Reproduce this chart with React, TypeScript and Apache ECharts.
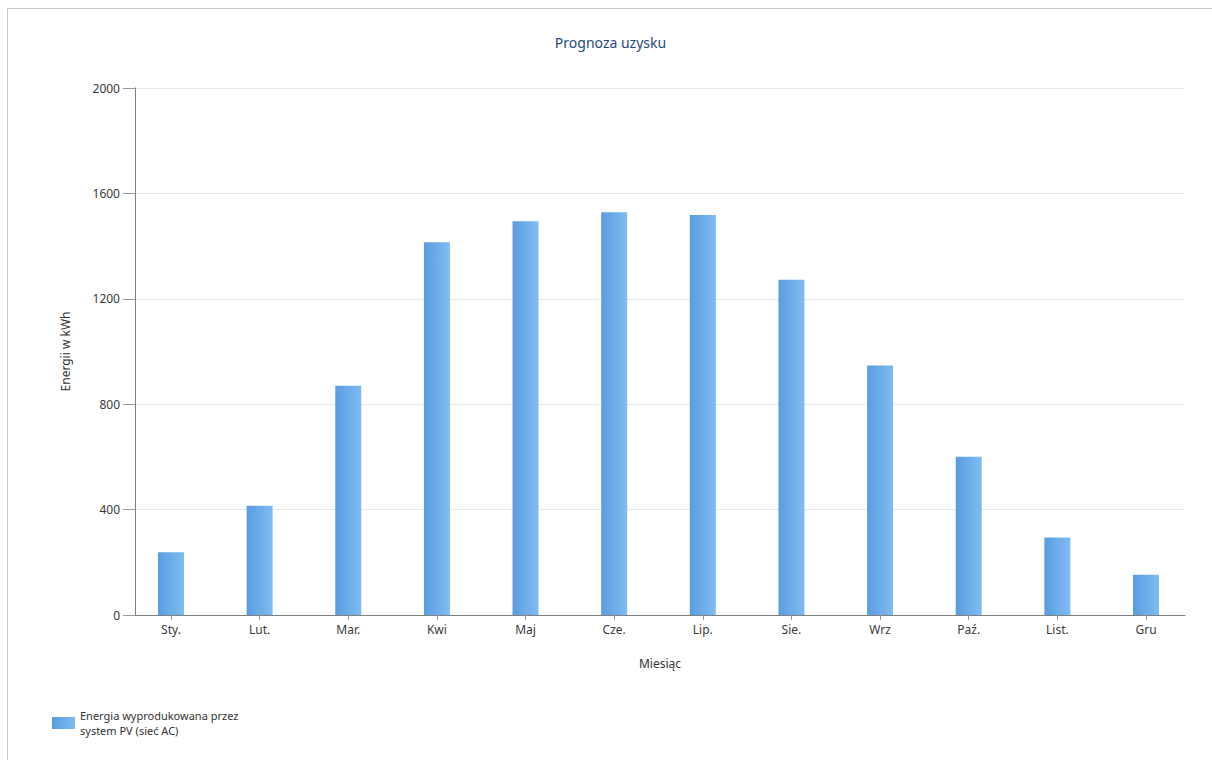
import React, { useEffect, useRef } from "react";
import * as echarts from "echarts";

const months = ["Sty.", "Lut.", "Mar.", "Kwi", "Maj", "Cze.", "Lip.", "Sie.", "Wrz", "Paź.", "List.", "Gru"];
const energy = [238, 415, 870, 1415, 1494, 1528, 1518, 1272, 947, 601, 294, 153];
const yTicks = { min: 0, max: 2000, interval: 400 };
const seriesName = "Energia wyprodukowana przez\nsystem PV (sieć AC)";
const FONT = "Noto Sans";

export default function App() {
  const ref = useRef<HTMLDivElement>(null);
  useEffect(() => {
    if (!ref.current) return;
    const chart = echarts.init(ref.current, undefined, { renderer: "svg" });
    const idx = months.map((_, i) => i);
    const grad = () =>
      new echarts.graphic.LinearGradient(0, 0, 1, 0, [
        { offset: 0, color: "#5a9ce0" },
        { offset: 1, color: "#7ebcf1" },
      ]);
    chart.setOption({
      animation: false,
      backgroundColor: "#ffffff",
      textStyle: { fontFamily: FONT },
      title: {
        text: "Prognoza uzysku",
        left: "center",
        top: 21,
        textStyle: { fontFamily: FONT, fontSize: 14, fontWeight: "normal", color: "#1d4a80" },
      },
      legend: {
        left: 39,
        top: 694,
        itemWidth: 23,
        itemHeight: 12,
        itemGap: 5,
        icon: "rect",
        textStyle: { fontFamily: FONT, fontSize: 11, color: "#333", lineHeight: 15 },
        data: [{ name: seriesName, itemStyle: { color: grad() } }],
      },
      grid: { left: 127, right: 28, top: 79, bottom: 146, containLabel: false },
      xAxis: {
        type: "value",
        min: -0.406,
        max: 11.44,
        name: "Miesiąc",
        nameLocation: "middle",
        nameGap: 42,
        nameTextStyle: { fontFamily: FONT, fontSize: 12, color: "#333" },
        axisLine: { show: true, onZero: false, lineStyle: { color: "#7f7f7f", width: 1 } },
        axisTick: { show: true, length: 5, customValues: idx, lineStyle: { color: "#9a9a9a" } },
        axisLabel: {
          customValues: idx,
          formatter: (v: number) => months[Math.round(v)],
          fontFamily: FONT,
          fontSize: 12,
          color: "#3a3a3a",
          margin: 8,
        },
        splitLine: { show: false },
      },
      yAxis: {
        type: "value",
        min: yTicks.min,
        max: yTicks.max,
        interval: yTicks.interval,
        name: "Energii w kWh",
        nameLocation: "middle",
        nameGap: 64,
        nameTextStyle: { fontFamily: FONT, fontSize: 12, color: "#333" },
        axisLine: { show: true, onZero: false, lineStyle: { color: "#7f7f7f", width: 1 } },
        axisTick: { show: true, length: 12, lineStyle: { color: "#9a9a9a" } },
        axisLabel: {
          fontFamily: FONT,
          fontSize: 12,
          color: "#3a3a3a",
          margin: 15,
          formatter: (v: number) => String(v),
        },
        splitLine: { show: true, lineStyle: { color: "#e8e8e8", width: 1 } },
      },
      series: [
        {
          name: seriesName,
          type: "bar",
          barWidth: 26,
          data: energy.map((v, i) => [i, v]),
          itemStyle: { color: grad() },
        },
      ],
    });
    return () => chart.dispose();
  }, []);
  return (
    <div
      ref={ref}
      style={{
        position: "fixed",
        left: 7,
        top: 8,
        width: 1205,
        height: 752,
        borderTop: "1px solid #c8c8c8",
        borderLeft: "1px solid #c8c8c8",
      }}
    />
  );
}
